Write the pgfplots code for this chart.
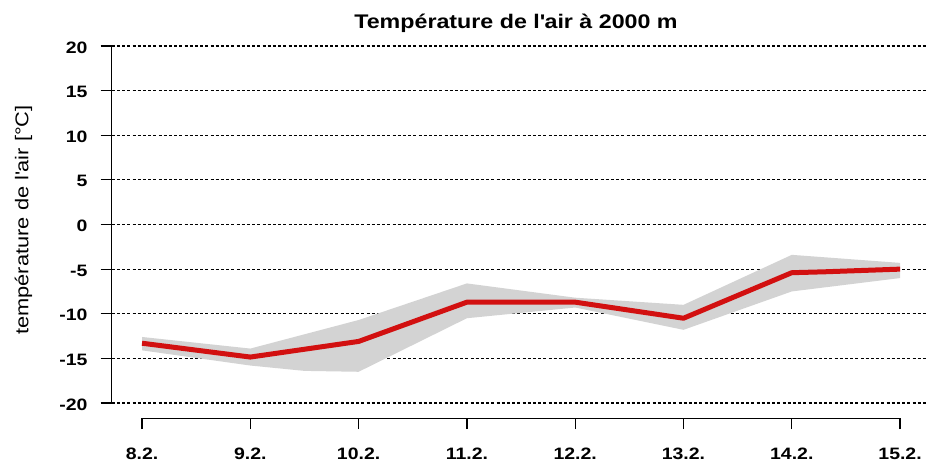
\documentclass[border=0pt]{standalone}
\usepackage{pgfplots}
\pgfplotsset{compat=1.18}
\usepackage{fontspec}
\setmainfont{Liberation Sans}[FakeStretch=1.18]
\definecolor{bandgray}{RGB}{211,211,211}
\definecolor{linered}{RGB}{210,16,16}
\begin{document}
\begin{tikzpicture}[x=1pt,y=1pt]
\useasboundingbox (0,0) rectangle (926,466);
\begin{axis}[
  at={(111.7pt,47.8pt)}, anchor=south west,
  scale only axis, width=818.7pt, height=387.4pt,
  xmin=-0.28, xmax=7.28, ymin=-21.7, ymax=21.7,
  axis line style={draw=none},
  tick pos=left, tick align=outside,
  major tick length=11pt,
  every tick/.style={black, line width=1.2pt},
  xtick={0,...,7},
  xticklabels={8.2.,9.2.,10.2.,11.2.,12.2.,13.2.,14.2.,15.2.},
  ytick={-20,-15,...,20},
  ymajorgrids,
  grid style={black, line width=1.2pt, dash pattern=on 3pt off 2.2pt},
  ticklabel style={font=\fontsize{16.5}{19}\selectfont\bfseries},
  xticklabel style={anchor=north, inner sep=0pt, yshift=-19pt},
  yticklabel style={anchor=east, inner sep=0pt, xshift=-13pt, yshift=-1.5pt},
  /pgf/number format/assume math mode=true,
  clip=false,
]
\addplot[fill=bandgray, draw=none] coordinates {
  (0,-12.6) (1,-13.9) (2,-10.7) (3,-6.6) (4,-8.2) (5,-9.0) (6,-3.4) (7,-4.3)
  (7,-6.0) (6,-7.5) (5,-11.8) (4,-9.3) (3,-10.5) (2,-16.5) (1.5,-16.4) (1,-15.8) (0,-14.1)
} -- cycle;
\addplot[linered, line width=5pt, line join=round] coordinates {
  (0,-13.3) (1,-14.85) (2,-13.1) (3,-8.7) (4,-8.7) (5,-10.5) (6,-5.4) (6.3,-5.3) (7,-5.0)
};
\draw[line width=1.2pt] (axis cs:-0.28,-20) -- (axis cs:-0.28,20);
\draw[line width=1.2pt] (axis cs:0,-21.7) -- (axis cs:7,-21.7);
\end{axis}
\node[rotate=90, font=\fontsize{18.5}{22}\selectfont] at (23.5,246) {température de l\textquotesingle air [°C]};
\node[anchor=base, font=\fontsize{19.7}{23}\selectfont\bfseries] at (516,437) {Température de l\textquotesingle air à 2000 m};
\end{tikzpicture}
\end{document}
